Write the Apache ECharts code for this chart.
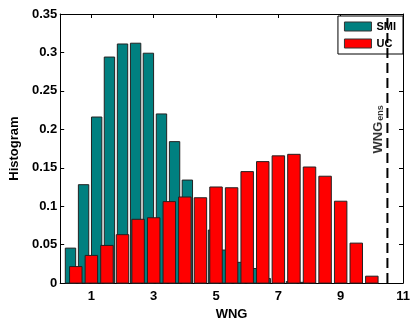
<!DOCTYPE html>
<html>
<head>
<meta charset="utf-8">
<script src="https://cdn.jsdelivr.net/npm/echarts@6/dist/echarts.min.js"></script>
<style>html,body{margin:0;padding:0;background:#fff}#c{width:415px;height:326px}</style>
</head>
<body>
<div id="c"></div>
<script>
// ---- data ----
const smiCenters = [0.33, 0.75, 1.17, 1.58, 2.0, 2.42, 2.83, 3.25, 3.67, 4.08, 4.5, 4.92, 5.33, 5.75, 6.17, 6.58, 7.0, 7.42, 7.83];
const smiValues  = [0.0455, 0.128, 0.216, 0.294, 0.311, 0.312, 0.299, 0.220, 0.184, 0.134, 0.100, 0.069, 0.043, 0.027, 0.019, 0.006, 0.003, 0.002, 0.001];
const ucCenters  = [0.5, 1.0, 1.5, 2.0, 2.5, 3.0, 3.5, 4.0, 4.5, 5.0, 5.5, 6.0, 6.5, 7.0, 7.5, 8.0, 8.5, 9.0, 9.5, 10.0];
const ucValues   = [0.0215, 0.036, 0.049, 0.063, 0.083, 0.085, 0.106, 0.112, 0.111, 0.125, 0.124, 0.145, 0.158, 0.1655, 0.1675, 0.151, 0.139, 0.1065, 0.052, 0.009];
const wngEns = 10.5;
const xTickLabels = ['1', '3', '5', '7', '9', '11'];
const xPositions = ['0','1','2','3','4','5','6','7','8','9','10','11'];
const yTickLabels = ['0', '0.05', '0.1', '0.15', '0.2', '0.25', '0.3', '0.35'];

// ---- styling ----
const FONT = "'Liberation Sans', Arial, Helvetica, sans-serif";
const SMI_W = 0.333, UC_W = 0.40;

function barRenderer(width, fill) {
  return function (params, api) {
    const x = api.value(0), y = api.value(1);
    const p0 = api.coord([x - width / 2, y]);
    const p1 = api.coord([x + width / 2, 0]);
    return {
      type: 'rect',
      shape: { x: p0[0], y: p0[1], width: p1[0] - p0[0], height: p1[1] - p0[1] },
      style: { fill: fill, stroke: '#222', lineWidth: 1 }
    };
  };
}

const tickFn = (i, v) => xTickLabels.includes(String(v));

const chart = echarts.init(document.getElementById('c'), null, { renderer: 'canvas' });
chart.setOption({
  animation: false,
  backgroundColor: '#fff',
  textStyle: { fontFamily: FONT },
  grid: { left: 50, right: 12, top: 14, bottom: 35 },
  legend: {
    orient: 'vertical', right: 12, top: 16,
    backgroundColor: '#fff', borderColor: '#000', borderWidth: 1,
    padding: [4, 7, 4, 6], itemGap: 4, itemWidth: 27, itemHeight: 9,
    itemStyle: { borderColor: '#333', borderWidth: 1 },
    icon: 'rect',
    textStyle: { fontFamily: FONT, fontWeight: 'bold', fontSize: 11, color: '#000', lineHeight: 13 },
    data: ['SMI', 'UC']
  },
  xAxis: [
    { type: 'value', min: 0, max: 11, show: false },
    {
      type: 'category', position: 'bottom', data: xPositions, boundaryGap: false,
      axisLine: { lineStyle: { color: '#000', width: 1 } },
      axisTick: { inside: true, length: 4, interval: tickFn, lineStyle: { color: '#000' } },
      axisLabel: { interval: tickFn, color: '#000', fontWeight: 'bold', fontSize: 13, margin: 7, fontFamily: FONT },
      splitLine: { show: false },
      name: 'WNG', nameLocation: 'middle', nameGap: 22,
      nameTextStyle: { color: '#000', fontWeight: 'bold', fontSize: 13, fontFamily: FONT }
    },
    {
      type: 'category', position: 'top', data: xPositions, boundaryGap: false,
      axisLine: { lineStyle: { color: '#000', width: 1 } },
      axisTick: { inside: true, length: 4, interval: tickFn, lineStyle: { color: '#000' } },
      axisLabel: { show: false }, splitLine: { show: false }
    }
  ],
  yAxis: [
    {
      type: 'value', min: 0, max: 0.35, interval: 0.05, position: 'left',
      axisLine: { show: true, lineStyle: { color: '#000', width: 1 } },
      axisTick: { show: true, inside: true, length: 4, lineStyle: { color: '#000' } },
      axisLabel: {
        color: '#000', fontWeight: 'bold', fontSize: 13, margin: 3, fontFamily: FONT,
        formatter: (v) => yTickLabels[Math.round(v / 0.05)]
      },
      splitLine: { show: false },
      name: 'Histogram', nameLocation: 'middle', nameGap: 37,
      nameTextStyle: { color: '#000', fontWeight: 'bold', fontSize: 13, fontFamily: FONT }
    },
    {
      type: 'value', min: 0, max: 0.35, interval: 0.05, position: 'right',
      axisLine: { show: true, lineStyle: { color: '#000', width: 1 } },
      axisTick: { show: true, inside: true, length: 4, lineStyle: { color: '#000' } },
      axisLabel: { show: false }, splitLine: { show: false }
    }
  ],
  series: [
    {
      name: 'SMI', type: 'custom', xAxisIndex: 0, yAxisIndex: 0,
      itemStyle: { color: '#008080', borderColor: '#222', borderWidth: 1 },
      renderItem: barRenderer(SMI_W, '#008080'),
      encode: { x: 0, y: 1 },
      data: smiCenters.map((c, i) => [c, smiValues[i]]),
      z: 2
    },
    {
      name: 'UC', type: 'custom', xAxisIndex: 0, yAxisIndex: 0,
      itemStyle: { color: '#ff0000', borderColor: '#222', borderWidth: 1 },
      renderItem: barRenderer(UC_W, '#ff0000'),
      encode: { x: 0, y: 1 },
      data: ucCenters.map((c, i) => [c, ucValues[i]]),
      z: 3
    },
    {
      name: 'ens', type: 'line', xAxisIndex: 0, yAxisIndex: 0,
      data: [[wngEns, 0], [wngEns, 0.35]],
      symbol: 'none', silent: true,
      lineStyle: { color: '#000', width: 2, type: [10, 5] },
      z: 4
    },
    {
      name: 'enslabel', type: 'scatter', xAxisIndex: 0, yAxisIndex: 0,
      data: [[wngEns - 0.3, 0.2]], symbolSize: 0, silent: true,
      label: {
        show: true, position: 'inside', rotate: 90,
        formatter: '{a|WNG}{b|ens}',
        rich: {
          a: { fontFamily: FONT, fontWeight: 'bold', fontSize: 13, color: '#000', lineHeight: 13, verticalAlign: 'top', padding: [0, 0, 6, 0] },
          b: { fontFamily: FONT, fontWeight: 'bold', fontSize: 9, color: '#000', lineHeight: 9, verticalAlign: 'bottom', padding: [0, 0, 0, 1] }
        }
      },
      z: 5
    }
  ]
});
</script>
</body>
</html>
